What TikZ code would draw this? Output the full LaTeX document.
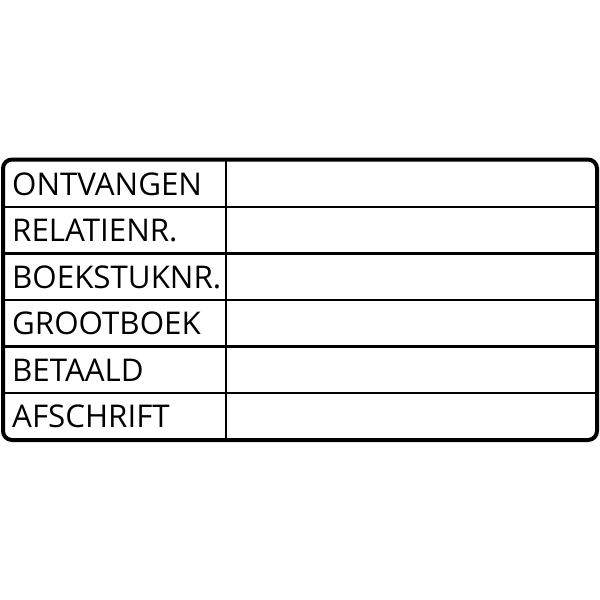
\documentclass[tikz,border=0pt]{standalone}
\usepackage{fontspec}
\setmainfont{Open Sans}
\begin{document}
\begin{tikzpicture}[x=1pt,y=-1pt,
  lbl/.style={anchor=base west,inner sep=0pt,font=\fontsize{31.3}{31.3}\selectfont},
  rowline/.style={line width=2.3pt},
  frame/.style={line width=4pt,rounded corners=9pt}]
\useasboundingbox (0,0) rectangle (600,600);
\coordinate (tl) at (3,159.5);
\coordinate (br) at (597,440);
\draw[frame] (tl) rectangle (br);
\foreach \y in {207,253.5,300,346.5,393}{
  \draw[rowline] (3,\y) -- (597,\y);
}
\draw[rowline] (226,159.5) -- (226,440);
\node[lbl] (r1) at (12,195) {ONTVANGEN};
\node[lbl] (r2) at (12,241.5) {RELATIENR.};
\node[lbl] (r3) at (12,288) {BOEKSTUKNR.};
\node[lbl] (r4) at (12,334.5) {GROOTBOEK};
\node[lbl] (r5) at (12,381) {BETAALD};
\node[lbl] (r6) at (12,427.5) {AFSCHRIFT};
\end{tikzpicture}
\end{document}
